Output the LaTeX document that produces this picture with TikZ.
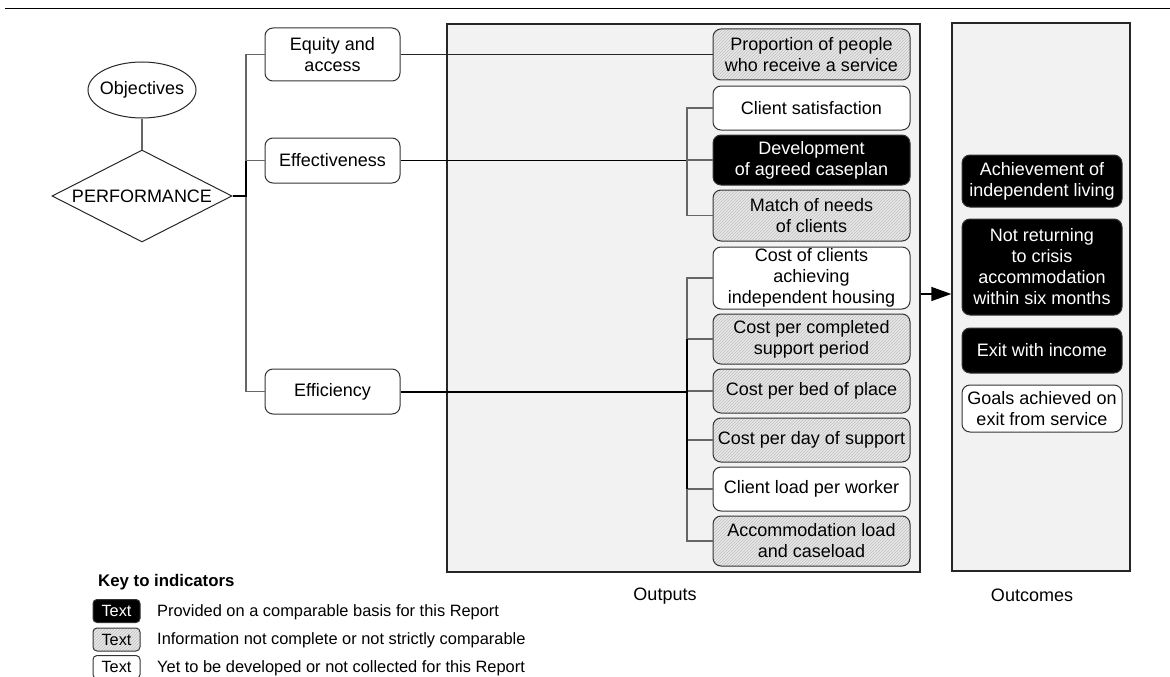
\documentclass[tikz,border=0pt]{standalone}
\usepackage{fontspec}
\setmainfont{Liberation Sans}
\usetikzlibrary{shapes.geometric,patterns,arrows.meta}
\newcommand\boxfont{\fontsize{18}{21}\selectfont}
\newcommand\keyfont{\fontsize{16.4}{19}\selectfont}
\begin{document}
\begin{tikzpicture}[x=1pt,y=-1pt,
  base/.style={rounded corners=8pt, draw=black!80, line width=1pt, align=center, inner sep=0pt, font=\boxfont},
  wbox/.style={base, fill=white},
  bbox/.style={base, fill=black, text=white},
  gbox/.style={base, preaction={fill=gray!18}, pattern=north east lines, pattern color=gray!50},
  lbox/.style={minimum width=135pt},
  obox/.style={minimum width=197pt},
  cbox/.style={minimum width=160pt},
  panel/.style={draw=black!85, line width=1.4pt, fill=gray!10, inner sep=0pt},
  tree/.style={draw=black!60, line width=1.2pt},
  thin/.style={draw=black!85, line width=1pt},
  heavy/.style={draw=black, line width=2pt},
  legbox/.style={rounded corners=4pt, draw=black!80, line width=1pt, inner sep=0pt, minimum width=47pt, minimum height=23pt, font=\fontsize{16.3}{18}\selectfont},
  keytext/.style={anchor=base west, inner sep=0pt, font=\keyfont}
]
\useasboundingbox (0,0) rectangle (1170,677);

% top rule
\coordinate (ruleL) at (5,9);
\coordinate (ruleR) at (1170,9);
\draw[line width=1pt] (ruleL) -- (ruleR);

% panels
\node[panel, minimum width=473pt, minimum height=548pt] (outp) at (683.5,298) {};
\node[panel, minimum width=178pt, minimum height=548pt] (outc) at (1041,297) {};

% objectives and performance
\node[ellipse, draw=black!85, line width=1pt, inner xsep=-5pt, inner ysep=0pt,
      minimum width=108pt, minimum height=56pt, font=\boxfont] (obj) at (142,90) {Objectives};
\node[diamond, draw=black!85, line width=1pt, aspect=1.96, inner sep=0pt,
      minimum width=180pt, minimum height=92pt, font=\boxfont] (perf) at (142,196) {PERFORMANCE};
\draw[tree] (obj.south) -- (perf.north);

% left boxes
\node[wbox, lbox, minimum height=53pt] (eq) at (332.5,54.5) {Equity and\\access};
\node[wbox, lbox, minimum height=45pt] (eff) at (332.5,160.5) {Effectiveness};
\node[wbox, lbox, minimum height=45pt] (effy) at (332.5,391.5) {Efficiency};

% output boxes
\node[gbox, obox, minimum height=51pt] (prop) at (811.5,54.5) {Proportion of people\\who receive a service};
\node[wbox, obox, minimum height=44pt] (cs) at (811.5,108) {Client satisfaction};
\node[bbox, obox, minimum height=50pt] (dev) at (811.5,160) {Development\\of agreed caseplan};
\node[gbox, obox, minimum height=51pt] (match) at (811.5,215.5) {Match of needs\\of clients};
\node[wbox, obox, minimum height=62pt] (coc) at (811.5,278) {Cost of clients\\achieving\\independent housing};
\node[gbox, obox, minimum height=50pt] (cpc) at (811.5,339) {Cost per completed\\support period};
\node[gbox, obox, minimum height=44pt] (cpb) at (811.5,391) {Cost per bed of place};
\node[gbox, obox, minimum height=44pt] (cpd) at (811.5,440) {Cost per day of support};
\node[wbox, obox, minimum height=44pt] (clw) at (811.5,489) {Client load per worker};
\node[gbox, obox, minimum height=50pt] (acc) at (811.5,541) {Accommodation load\\and caseload};

% outcome boxes
\node[bbox, cbox, minimum height=52pt] (ach) at (1042,181) {Achievement of\\independent living};
\node[bbox, cbox, minimum height=96pt] (notr) at (1042,267) {Not returning\\to crisis\\accommodation\\within six months};
\node[bbox, cbox, minimum height=45pt] (exit) at (1042,350.5) {Exit with income};
\node[wbox, cbox, minimum height=47pt] (goal) at (1042,408.5) {Goals achieved on\\exit from service};

% labels
\node[anchor=base, inner sep=0pt, font=\boxfont] (outlbl) at (665,600) {Outputs};
\node[anchor=base, inner sep=0pt, font=\boxfont] (outclbl) at (1032,601) {Outcomes};

% left tree
\coordinate (lb) at (246,0);
\draw[tree] (eq.west) -- (eq.west -| lb) |- (effy.west);
\draw[tree] (eff.west) -- (eff.west -| lb);
\draw[heavy] (perf.east) -- (perf.east -| lb) -- (eff.west -| lb);

% connectors to outputs
\coordinate (rb) at (687,0);
\draw[thin] (eq.east) -- (eq.east -| prop.west);
\draw[line width=1.6pt] (eff.east) -- (eff.east -| rb);
\draw[heavy] (effy.east) -- (effy.east -| rb);

% effectiveness tree
\draw[tree] (cs.west) -- (cs.west -| rb) |- (match.west);
\draw[tree] (dev.west) -- (dev.west -| rb);

% efficiency tree
\draw[tree] (coc.west) -- (coc.west -| rb) |- (acc.west);
\draw[tree] (cpc.west) -- (cpc.west -| rb);
\draw[tree] (cpb.west) -- (cpb.west -| rb);
\draw[tree] (cpd.west) -- (cpd.west -| rb);
\draw[tree] (clw.west) -- (clw.west -| rb);
\draw[line width=1.8pt] (cpc.west -| rb) -- (clw.west -| rb);

% arrow outputs -> outcomes
\coordinate (arry) at (0,294);
\draw[line width=1.4pt, -{Triangle[length=20pt,width=14pt]}] (outp.east |- arry) -- (outc.west |- arry);

% key
\node[anchor=base west, inner sep=0pt, font=\fontsize{16.8}{19}\selectfont\bfseries] (keyt) at (98,586) {Key to indicators};
\node[legbox, fill=black, text=white] (kb) at (116.5,611) {Text};
\node[legbox, preaction={fill=gray!18}, pattern=north east lines, pattern color=gray!50] (kg) at (116.5,639.5) {Text};
\node[legbox, fill=white] (kw) at (116.5,667) {Text};
\node[keytext] (kbt) at (157,616) {Provided on a comparable basis for this Report};
\node[keytext] (kgt) at (157,644) {Information not complete or not strictly comparable};
\node[keytext] (kwt) at (157,672) {Yet to be developed or not collected for this Report};
\end{tikzpicture}
\end{document}
